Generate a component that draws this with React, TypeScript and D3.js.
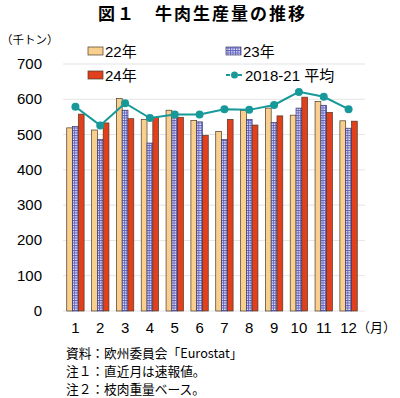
import React from 'react';
import * as d3 from 'd3';

const months = ['1', '2', '3', '4', '5', '6', '7', '8', '9', '10', '11', '12'];
const y22 = [519, 513, 602, 543, 569, 540, 509, 568, 575, 555, 594, 539];
const y23 = [523, 486, 569, 476, 564, 536, 486, 543, 534, 575, 583, 518];
const y24 = [558, 533, 545, 548, 549, 498, 543, 527, 553, 606, 563, 538];
const avg1821 = [579, 526, 589, 547, 557, 557, 572, 570, 584, 621, 607, 572];
const yTicks = [0, 100, 200, 300, 400, 500, 600, 700];
const seriesNames = ['22年', '23年', '24年'];

const W = 400;
const H = 398;
const FONT = '"Liberation Sans", Arial, "Noto Sans CJK JP", sans-serif';
const JP = '"Noto Sans CJK JP", sans-serif';

const App = () => {
  const x = d3.scaleBand().domain(months).range([63, 361]).paddingInner(0.3).paddingOuter(0.15);
  const y = d3.scaleLinear().domain([0, 700]).range([311, 64]);
  const inner = d3.scaleBand().domain(seriesNames).range([0, x.bandwidth()]);
  const fills = ['#F8CF8C', 'url(#grid23)', '#E2401C'];
  const values = [y22, y23, y24];
  const teal = '#17999A';

  const line = d3
    .line<number>()
    .x((_, i) => (x(months[i]) as number) + x.bandwidth() / 2)
    .y((d) => y(d));

  return (
    <div style={{ position: 'absolute', left: 0, top: 0, background: 'white' }}>
      <svg width={W} height={H} style={{ display: 'block' }}>
        <defs>
          <pattern id="grid23" width="2.5" height="2.5" patternUnits="userSpaceOnUse">
            <rect width="2.5" height="2.5" fill="#E8E8F8" />
            <path d="M0 0.5H2.5M0.5 0V2.5" stroke="#5E5EC0" strokeWidth="0.9" />
          </pattern>
        </defs>

        <text x={98} y={20} fontFamily={JP} fontWeight="bold" fontSize={17} letterSpacing={2}>
          図１　牛肉生産量の推移
        </text>
        <text x={1} y={44} fontFamily={JP} fontSize={11.5}>
          （千トン）
        </text>

        {/* grid + y ticks */}
        {yTicks.map((t) => (
          <g key={t}>
            <line x1={63} x2={365} y1={y(t)} y2={y(t)} stroke="#E4E4E4" strokeWidth={1} />
            <text x={42} y={y(t) + 5} textAnchor="end" fontFamily={FONT} fontSize={15}>
              {t}
            </text>
          </g>
        ))}

        {/* bars */}
        {months.map((m, i) => (
          <g key={m} transform={`translate(${x(m)},0)`}>
            {values.map((vals, s) => (
              <rect
                key={s}
                x={inner(seriesNames[s])}
                y={y(vals[i])}
                width={inner.bandwidth()}
                height={y(0) - y(vals[i])}
                fill={fills[s]}
                stroke={s === 1 ? '#3C3C70' : '#4A3A2A'}
                strokeWidth={0.7}
              />
            ))}
          </g>
        ))}

        {/* average line */}
        <path d={line(avg1821) || ''} fill="none" stroke={teal} strokeWidth={2} />
        {avg1821.map((v, i) => (
          <circle key={i} cx={(x(months[i]) as number) + x.bandwidth() / 2} cy={y(v)} r={4} fill={teal} />
        ))}

        {/* x labels */}
        {months.map((m) => (
          <text
            key={m}
            x={(x(m) as number) + x.bandwidth() / 2}
            y={333}
            textAnchor="middle"
            fontFamily={FONT}
            fontSize={15}
          >
            {m}
          </text>
        ))}
        <text x={357} y={332} fontFamily={JP} fontSize={13}>
          （月）
        </text>

        {/* legend */}
        <rect x={88} y={47} width={15} height={8} fill={fills[0]} stroke="#4A3A2A" strokeWidth={0.7} />
        <text x={105} y={57} fontFamily={FONT} fontSize={15}>22年</text>
        <rect x={226} y={47} width={15} height={8} fill={fills[1]} stroke="#3C3C70" strokeWidth={0.7} />
        <text x={243} y={57} fontFamily={FONT} fontSize={15}>23年</text>
        <rect x={88} y={71} width={15} height={8} fill={fills[2]} stroke="#4A3A2A" strokeWidth={0.7} />
        <text x={105} y={81} fontFamily={FONT} fontSize={15}>24年</text>
        <line x1={226} x2={243} y1={75} y2={75} stroke={teal} strokeWidth={2} strokeDasharray="4 2" />
        <circle cx={234.5} cy={75} r={3.5} fill={teal} />
        <text x={245} y={81} fontFamily={FONT} fontSize={15}>2018-21 平均</text>

        {/* notes */}
        <g fontFamily={JP} fontSize={12.7}>
          <text x={66} y={358}>資料：欧州委員会「Eurostat」</text>
          <text x={66} y={376}>注１：直近月は速報値。</text>
          <text x={66} y={394}>注２：枝肉重量ベース。</text>
        </g>
      </svg>
    </div>
  );
};

export default App;
